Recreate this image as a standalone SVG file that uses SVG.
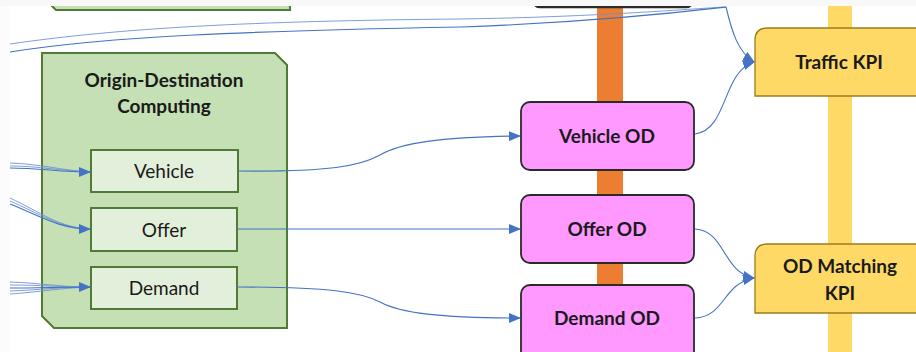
<svg xmlns="http://www.w3.org/2000/svg" width="916" height="352" viewBox="0 0 916 352">
<defs>
<marker id="arr" markerWidth="12" markerHeight="10" refX="11" refY="5" orient="auto" markerUnits="userSpaceOnUse">
<path d="M0,0 L12,5 L0,10 Z" fill="#4472c4"/>
</marker>
<style>
.conn{fill:none;stroke:#4472c4;stroke-width:1.1}
.thin{fill:none;stroke:#6f93d4;stroke-width:0.9}
.green{fill:#c5e0b4;stroke:#507a35;stroke-width:2}
.inner{fill:#e2efda;stroke:#507a35;stroke-width:2}
.pink{fill:#ff99ff;stroke:#2a2a2a;stroke-width:1.8}
.kpi{fill:#ffd966;stroke:#9c7c1a;stroke-width:1.3}
.bt{font-family:Lato,"Open Sans",sans-serif;font-weight:bold;font-size:19px;fill:#1a1a1a;text-anchor:middle}
.rt{font-family:Lato,"Open Sans",sans-serif;font-size:19px;fill:#1a1a1a;text-anchor:middle}
</style>
</defs>
<rect x="0" y="0" width="916" height="352" fill="#ffffff"/>
<rect x="597" y="0" width="26" height="352" fill="#ed7d31"/>
<rect x="828" y="0" width="24" height="352" fill="#ffd966"/>
<g id="top-green-box"><path class="green" d="M50,-20 L290,-20 L290,10 L56,10 L50,4 Z"/></g>
<g id="top-pink-box"><rect class="pink" x="532" y="-40" width="162" height="47" rx="8" style="stroke-width:2.5"/></g>
<g id="od-computing">
<path class="green" d="M42,53 L275,53 L287,65 L287,328 L54,328 L42,316 Z"/>
<text class="bt" x="164" y="87">Origin-Destination</text>
<text class="bt" x="164" y="113">Computing</text>
</g>
<g id="vehicle"><rect class="inner" x="91" y="150" width="147" height="42"/><text class="rt" x="164" y="178">Vehicle</text></g>
<g id="offer"><rect class="inner" x="91" y="208" width="146" height="43"/><text class="rt" x="164" y="237">Offer</text></g>
<g id="demand"><rect class="inner" x="91" y="267" width="146" height="42"/><text class="rt" x="164" y="295">Demand</text></g>
<g id="vehicle-od"><rect class="pink" x="521" y="102" width="173" height="68" rx="9"/><text class="bt" x="607" y="143">Vehicle OD</text></g>
<g id="offer-od"><rect class="pink" x="521" y="195" width="173" height="68" rx="9"/><text class="bt" x="607" y="236">Offer OD</text></g>
<g id="demand-od"><rect class="pink" x="521" y="285" width="173" height="80" rx="9"/><text class="bt" x="607" y="325">Demand OD</text></g>
<g id="traffic-kpi"><path class="kpi" d="M755,96 L755,40 Q755,28 767,28 L925,28 L925,96 Z"/><text class="bt" x="839" y="69">Traffic KPI</text></g>
<g id="od-matching-kpi"><path class="kpi" d="M755,313 L755,256 Q755,244 767,244 L925,244 L925,313 Z"/><text class="bt" x="840" y="273">OD Matching</text><text class="bt" x="840" y="300">KPI</text></g>
<g id="connectors">
<path class="thin" d="M10,44 C120,28 250,21 460,19 C600,17 700,8 726,7"/>
<path class="conn" d="M10,52 C110,36 250,31 460,27 C600,22 700,10 726,7 C732,32 738,52 754,62" marker-end="url(#arr)"/>
<path class="conn" d="M695,134 C728,130 722,72 754,62" marker-end="url(#arr)"/>
<path class="thin" d="M10,163 C40,164 60,170 90,172"/>
<path class="thin" d="M10,166 C40,166 60,171 90,172"/>
<path class="conn" d="M10,168 C40,168 60,172 90,172" marker-end="url(#arr)"/>
<path class="thin" d="M10,198 C40,212 60,228 90,229"/>
<path class="thin" d="M10,201 C40,214 60,228 90,229"/>
<path class="conn" d="M10,204 C40,216 60,229 90,229" marker-end="url(#arr)"/>
<path class="thin" d="M10,282 C40,283 60,287 90,287"/>
<path class="thin" d="M10,285 C40,285 60,287 90,287"/>
<path class="thin" d="M10,291 C40,290 60,287 90,287"/>
<path class="thin" d="M10,294 C40,292 60,288 90,287"/>
<path class="conn" d="M10,288 C40,288 60,287 90,287" marker-end="url(#arr)"/>
<path class="conn" d="M238,171 C330,172 360,166 380,155 C400,143 440,137 520,136" marker-end="url(#arr)"/>
<path class="conn" d="M237,229 L520,229" marker-end="url(#arr)"/>
<path class="conn" d="M237,287 C330,287 360,292 380,302 C400,313 440,318 520,318" marker-end="url(#arr)"/>
<path class="conn" d="M695,229 C726,231 722,272 754,278" marker-end="url(#arr)"/>
<path class="conn" d="M695,318 C726,316 722,284 754,278" marker-end="url(#arr)"/>
</g>
<rect x="0" y="0" width="916" height="6" fill="#f8f8f8"/>
<rect x="0" y="6" width="10" height="346" fill="#fcfcfc"/>
</svg>
